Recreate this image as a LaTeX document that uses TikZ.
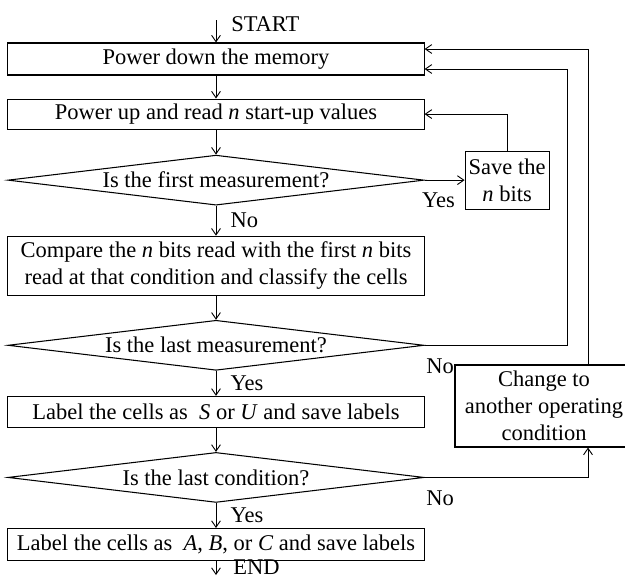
\documentclass[tikz,border=0pt]{standalone}
\usepackage{fontspec}
\setmainfont{Liberation Serif}
\usetikzlibrary{arrows.meta,positioning,shapes.geometric}
\newcommand{\chartfont}{\fontsize{16}{19.2}\selectfont}
\tikzset{
  procbox/.style={draw,line width=0.75pt,minimum width=10.4cm,minimum height=0.8cm,inner sep=2pt,align=center,font=\chartfont},
  decision/.style={draw,diamond,aspect=8,line width=0.75pt,inner sep=0pt,minimum width=10.4cm,minimum height=1.25cm,font=\chartfont},
  sidebox/.style={procbox,minimum width=2.1cm,minimum height=1.45cm},
  flowarrow/.style={-{Straight Barb[length=1.6mm,width=2.2mm]},line width=0.65pt},
  answer/.style={font=\chartfont,inner sep=1pt},
  downans/.style={answer,anchor=west,xshift=9pt},
  sideans/.style={answer,anchor=north west,yshift=-8pt}
}

\begin{document}
\begin{tikzpicture}[x=0.025cm,y=-0.025cm]
\useasboundingbox (0,0) rectangle (625,581);

% main column
\node[procbox] (down) at (216,59) {Power down the memory};
\node[procbox,minimum height=0.75cm,below=0.575cm of down] (up) {Power up and read \textit{n} start-up values};
\node[decision,below=0.625cm of up] (firstq) {Is the first measurement?};
\node[procbox,minimum height=1.475cm,below=0.75cm of firstq] (cmp) {Compare the \textit{n} bits read with the first \textit{n} bits\\read at that condition and classify the cells};
\node[decision,below=0.6cm of cmp] (lastq) {Is the last measurement?};
\node[procbox,minimum height=0.775cm,below=0.625cm of lastq] (lblsu) {Label the cells as \ \textit{S} or \textit{U} and save labels};
\node[decision,below=0.6cm of lblsu] (condq) {Is the last condition?};
\node[procbox,below=0.625cm of condq] (lblabc) {Label the cells as \ \textit{A}, \textit{B}, or \textit{C} and save labels};

% side boxes
\node[sidebox,right=1cm of firstq] (save) {Save the\\\textit{n} bits};
\node[sidebox,minimum width=4.45cm,minimum height=2.05cm] (change) at (544,406) {Change to\\another operating\\condition};

% start and end
\coordinate (start) at (216,20);
\coordinate (finish) at (216,575);
\node[font=\chartfont,inner sep=0pt,anchor=west] (starttxt) at (231,24) {START};
\node[font=\chartfont,inner sep=0pt,anchor=west] (endtxt) at (233,567) {END};

\draw[flowarrow] (start) -- (down);
\draw[flowarrow] (down) -- (up);
\draw[flowarrow] (up) -- (firstq);
\draw[flowarrow] (firstq) -- node[downans]{No} (cmp);
\draw[flowarrow] (cmp) -- (lastq);
\draw[flowarrow] (lastq) -- node[downans]{Yes} (lblsu);
\draw[flowarrow] (lblsu) -- (condq);
\draw[flowarrow] (condq) -- node[downans]{Yes} (lblabc);
\draw[flowarrow] (lblabc) -- (finish);

% loops back
\draw[flowarrow] (firstq.east) -- node[sideans,pos=0,xshift=-3pt]{Yes} (save.west);
\draw[flowarrow] (save.north) |- (up.east);
\draw[flowarrow] (lastq.east) node[sideans]{No} -| ([xshift=3.575cm,yshift=-0.25cm]down.east) -- ([yshift=-0.25cm]down.east);
\draw[flowarrow] (condq.east) node[sideans]{No} -| ([xshift=1.1cm]change.south);
\draw[flowarrow] ([xshift=1.1cm]change.north) |- ([yshift=0.25cm]down.east);
\end{tikzpicture}
\end{document}
